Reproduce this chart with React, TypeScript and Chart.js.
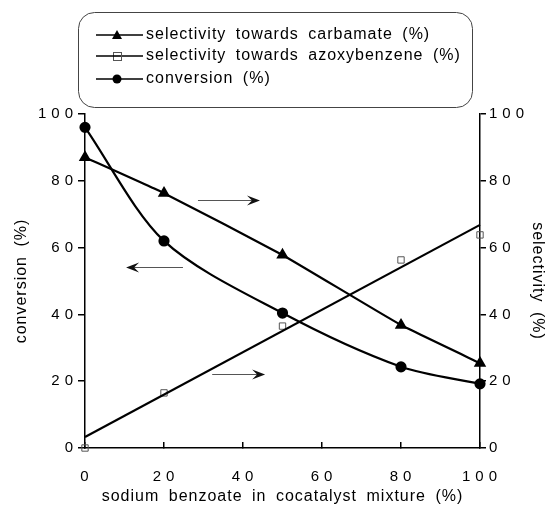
import React, { useEffect, useRef } from 'react';
import { Chart, registerables } from 'chart.js';

Chart.register(...registerables);

// ---- data ----
const cocatalystPct = [0, 20, 50, 80, 100];
const conversion = [96, 62, 40.4, 24.3, 19.2];
const selCarbamate = [87, 76.3, 57.8, 36.8, 25.4];
const selAzoxy = [0, 16.5, 36.5, 56.3, 63.8];
const azoxyFitX = [0, 100];
const azoxyFitY = [3.3, 66.8];
const xTickValues = [0, 20, 40, 60, 80, 100];
const yTickValues = [0, 20, 40, 60, 80, 100];
const legendLabels = [
  'selectivity towards carbamate (%)',
  'selectivity towards azoxybenzene (%)',
  'conversion (%)',
];
const xTitle = 'sodium benzoate in cocatalyst mixture (%)';
const yLeftTitle = 'conversion (%)';
const yRightTitle = 'selectivity (%)';
// arrows in data coordinates
const arrowFromX = [28.6, 24.8, 32.2];
const arrowToX = [44.3, 10.4, 45.6];
const arrowY = [74.3, 54.2, 22.2];

const FONT = '"Liberation Sans", Arial, Helvetica, sans-serif';
const spaced = (v: any) => String(v).split('').join('\u2009');

const textStylePlugin = {
  id: 'textStyle',
  beforeLayout(chart: any) {
    chart.ctx.letterSpacing = '1px';
    chart.ctx.wordSpacing = '4px';
  },
  beforeDraw(chart: any) {
    chart.ctx.letterSpacing = '1px';
    chart.ctx.wordSpacing = '4px';
  },
};

const annotationsPlugin = {
  id: 'annotations',
  afterDraw(chart: any) {
    const ctx = chart.ctx;
    const xs = chart.scales.x;
    const ys = chart.scales.y;
    ctx.save();
    // arrows
    for (let i = 0; i < arrowY.length; i++) {
      const x1 = xs.getPixelForValue(arrowFromX[i]);
      const x2 = xs.getPixelForValue(arrowToX[i]);
      const y = Math.round(ys.getPixelForValue(arrowY[i])) + 0.5;
      const dir = x2 > x1 ? 1 : -1;
      ctx.strokeStyle = '#555';
      ctx.lineWidth = 1.2;
      ctx.beginPath();
      ctx.moveTo(x1, y);
      ctx.lineTo(x2 - dir * 7, y);
      ctx.stroke();
      ctx.fillStyle = '#111';
      ctx.beginPath();
      ctx.moveTo(x2, y);
      ctx.lineTo(x2 - dir * 13, y - 5);
      ctx.lineTo(x2 - dir * 8, y);
      ctx.lineTo(x2 - dir * 13, y + 5);
      ctx.closePath();
      ctx.fill();
    }
    // legend box
    ctx.strokeStyle = '#444';
    ctx.lineWidth = 1;
    ctx.beginPath();
    (ctx as any).roundRect(78.5, 12.5, 394, 95, 16);
    ctx.stroke();
    const rows = [35, 56, 79];
    ctx.font = '16px ' + FONT;
    ctx.textBaseline = 'middle';
    ctx.textAlign = 'left';
    for (let i = 0; i < rows.length; i++) {
      const y = rows[i];
      ctx.strokeStyle = '#000';
      ctx.lineWidth = 1.6;
      ctx.beginPath();
      ctx.moveTo(96, y);
      ctx.lineTo(143, y);
      ctx.stroke();
      const mx = 117;
      if (i === 0) {
        ctx.fillStyle = '#000';
        ctx.beginPath();
        ctx.moveTo(mx, y - 5);
        ctx.lineTo(mx + 5, y + 4);
        ctx.lineTo(mx - 5, y + 4);
        ctx.closePath();
        ctx.fill();
      } else if (i === 1) {
        ctx.fillStyle = '#fff';
        ctx.fillRect(mx - 4, y - 4, 8, 8);
        ctx.strokeStyle = '#555';
        ctx.lineWidth = 1;
        ctx.strokeRect(mx - 4 + 0.5, y - 4 + 0.5, 8, 8);
        ctx.strokeStyle = '#000';
        ctx.lineWidth = 1.6;
        ctx.beginPath();
        ctx.moveTo(mx - 4, y);
        ctx.lineTo(mx + 4, y);
        ctx.stroke();
      } else {
        ctx.fillStyle = '#000';
        ctx.beginPath();
        ctx.arc(mx, y, 4.5, 0, Math.PI * 2);
        ctx.fill();
      }
      ctx.fillStyle = '#000';
      ctx.fillText(legendLabels[i], 146, y);
    }
    ctx.restore();
  },
};

const tickFont = { family: FONT, size: 15 };

export default function App() {
  const ref = useRef<HTMLCanvasElement>(null);
  useEffect(() => {
    if (!ref.current) return;
    const chart = new Chart(ref.current, {
      type: 'line',
      data: {
        datasets: [
          {
            label: legendLabels[2],
            data: cocatalystPct.map((x, i) => ({ x, y: conversion[i] })),
            yAxisID: 'y',
            borderColor: '#000',
            borderWidth: 2.2,
            pointStyle: 'circle',
            pointRadius: 4.5,
            pointBackgroundColor: '#000',
            pointBorderColor: '#000',
            tension: 0.3,
            clip: false,
          },
          {
            label: legendLabels[0],
            data: cocatalystPct.map((x, i) => ({ x, y: selCarbamate[i] })),
            yAxisID: 'y2',
            borderColor: '#000',
            borderWidth: 2.2,
            pointStyle: 'triangle',
            pointRadius: 5,
            pointBackgroundColor: '#000',
            pointBorderColor: '#000',
            tension: 0.1,
            clip: false,
          },
          {
            label: legendLabels[1] + ' fit',
            data: azoxyFitX.map((x, i) => ({ x, y: azoxyFitY[i] })),
            yAxisID: 'y2',
            borderColor: '#000',
            borderWidth: 2.2,
            pointRadius: 0,
            clip: false,
          },
          {
            label: legendLabels[1],
            data: cocatalystPct.map((x, i) => ({ x, y: selAzoxy[i] })),
            yAxisID: 'y2',
            showLine: false,
            pointStyle: 'rect',
            pointRadius: 4.5,
            pointBackgroundColor: 'rgba(255,255,255,0)',
            pointBorderColor: '#555',
            pointBorderWidth: 1,
            clip: false,
          },
        ],
      },
      options: {
        responsive: false,
        animation: false,
        events: [],
        layout: { padding: { top: 114, left: 0, right: 0, bottom: 0 } },
        plugins: { legend: { display: false }, tooltip: { enabled: false } },
        scales: {
          x: {
            type: 'linear',
            position: 'bottom',
            min: 0,
            max: 100,
            afterBuildTicks: (s: any) => {
              s.ticks = xTickValues.map((v) => ({ value: v }));
            },
            afterFit: (s: any) => {
              s.height = 57;
            },
            grid: { drawOnChartArea: false, drawTicks: true, tickLength: -6, color: '#000', lineWidth: 1.5 },
            border: { color: '#000', width: 1.5 },
            ticks: { padding: 26, color: '#000', font: tickFont, maxRotation: 0, autoSkip: false, callback: spaced },
            title: { display: true, text: xTitle, color: '#000', padding: 0, font: { family: FONT, size: 16, lineHeight: 1 } },
          },
          y: {
            type: 'linear',
            position: 'left',
            min: 0,
            max: 100,
            afterBuildTicks: (s: any) => {
              s.ticks = yTickValues.map((v) => ({ value: v }));
            },
            afterFit: (s: any) => {
              s.width = 85;
            },
            grid: { drawOnChartArea: false, drawTicks: true, tickLength: 7, color: '#000', lineWidth: 1.5 },
            border: { color: '#000', width: 1.5 },
            ticks: { padding: 4, color: '#000', font: tickFont, callback: spaced },
            title: { display: true, text: yLeftTitle, color: '#000', padding: { top: 12, bottom: 0 }, font: { family: FONT, size: 16, lineHeight: 1.2 } },
          },
          y2: {
            type: 'linear',
            position: 'right',
            min: 0,
            max: 100,
            afterBuildTicks: (s: any) => {
              s.ticks = yTickValues.map((v) => ({ value: v }));
            },
            afterFit: (s: any) => {
              s.width = 65;
            },
            grid: { drawOnChartArea: false, drawTicks: true, tickLength: 6, color: '#000', lineWidth: 1.5 },
            border: { color: '#000', width: 1.5 },
            ticks: { padding: 3, color: '#000', font: tickFont, callback: spaced },
            title: { display: true, text: yRightTitle, color: '#000', padding: 0, font: { family: FONT, size: 16, lineHeight: 1 } },
          },
        },
      },
      plugins: [textStylePlugin, annotationsPlugin],
    } as any);
    return () => chart.destroy();
  }, []);
  return (
    <canvas
      ref={ref}
      width={545}
      height={505}
      style={{ position: 'absolute', left: 0, top: 0, width: 545, height: 505 }}
    />
  );
}
